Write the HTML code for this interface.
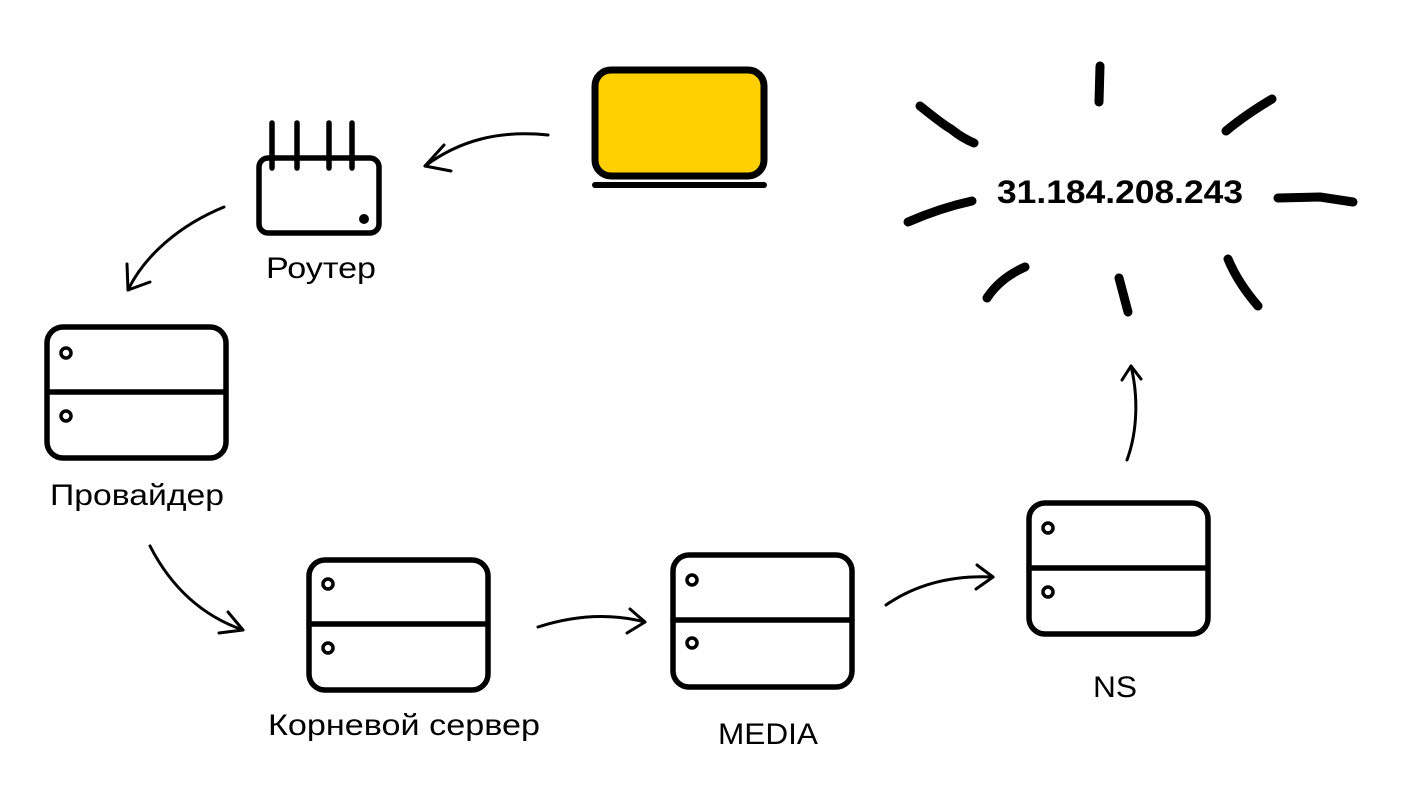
<!DOCTYPE html>
<html><head><meta charset="utf-8"><style>
html,body{margin:0;padding:0;background:#fff;}
svg{display:block;}
text{font-family:"Liberation Sans","DejaVu Sans",sans-serif;fill:#000;}
</style></head><body>
<svg width="1403" height="811" viewBox="0 0 1403 811" xmlns="http://www.w3.org/2000/svg">
<g fill="none" stroke="#000" stroke-linecap="round" stroke-linejoin="round">
<rect x="595" y="70" width="169" height="106" rx="16" fill="#FFCF00" stroke-width="7"/>
<line x1="595" y1="185" x2="764" y2="185" stroke-width="6"/>
<rect x="259" y="158" width="120" height="75" rx="9" stroke-width="5.5"/>
<line x1="272" y1="123" x2="272" y2="168" stroke-width="5.5"/>
<line x1="297" y1="123" x2="297" y2="168" stroke-width="5.5"/>
<line x1="329" y1="123" x2="329" y2="168" stroke-width="5.5"/>
<line x1="352" y1="123" x2="352" y2="168" stroke-width="5.5"/>
<rect x="47" y="327" width="179" height="131" rx="16" stroke-width="5.5"/>
<line x1="47" y1="392" x2="226" y2="392" stroke-width="5.5"/>
<circle cx="66" cy="353" r="5" stroke-width="3.5"/><circle cx="66" cy="416" r="5" stroke-width="3.5"/>
<rect x="309" y="560" width="179" height="130" rx="16" stroke-width="5.5"/>
<line x1="309" y1="624" x2="488" y2="624" stroke-width="5.5"/>
<circle cx="328" cy="584" r="5" stroke-width="3.5"/><circle cx="328" cy="648" r="5" stroke-width="3.5"/>
<rect x="673" y="555" width="179" height="132" rx="16" stroke-width="5.5"/>
<line x1="673" y1="620" x2="852" y2="620" stroke-width="5.5"/>
<circle cx="692" cy="580" r="5" stroke-width="3.5"/><circle cx="692" cy="643" r="5" stroke-width="3.5"/>
<rect x="1029" y="503" width="179" height="131" rx="16" stroke-width="5.5"/>
<line x1="1029" y1="568" x2="1208" y2="568" stroke-width="5.5"/>
<circle cx="1048" cy="528" r="5" stroke-width="3.5"/><circle cx="1048" cy="592" r="5" stroke-width="3.5"/>
<g stroke-width="3">
<path d="M548 135 C500 130 460 140 425 166"/><path d="M444 145 L425 166 L451 171"/>
<path d="M224 207 C180 225 145 255 128 290"/><path d="M127 264 L128 290 L150 282"/>
<path d="M150 546 C170 585 200 615 243 630"/><path d="M228 612 L243 630 L219 633"/>
<path d="M538 627 C575 615 610 613 645 622"/><path d="M630 609 L645 622 L627 633"/>
<path d="M886 605 C915 585 950 575 993 577"/><path d="M977 565 L993 577 L976 589"/>
<path d="M1127 460 C1138 430 1138 395 1131 366"/><path d="M1122 380 L1131 366 L1141 379"/>
</g>
<g stroke-width="9">
<path d="M920 106 Q945 126 951 129 Q962 138 974 143"/>
<path d="M1100 66 L1099 102"/>
<path d="M1226 131 Q1245 115 1272 99"/>
<path d="M908 222 Q940 208 972 201"/>
<path d="M1278 198 L1320 197 L1353 202"/>
<path d="M987 298 Q1000 278 1025 267"/>
<path d="M1119 278 L1128 312"/>
<path d="M1228 259 Q1238 283 1258 306"/>
</g>
</g>
<circle cx="364" cy="219" r="5" fill="#000"/>
<text x="266" y="278" font-size="30" textLength="110" lengthAdjust="spacingAndGlyphs">Роутер</text>
<text x="50" y="505" font-size="30" textLength="174" lengthAdjust="spacingAndGlyphs">Провайдер</text>
<text x="268" y="735" font-size="30" textLength="272" lengthAdjust="spacingAndGlyphs">Корневой сервер</text>
<text x="718" y="744" font-size="30" textLength="100" lengthAdjust="spacingAndGlyphs">MEDIA</text>
<text x="1093" y="697" font-size="30" textLength="44" lengthAdjust="spacingAndGlyphs">NS</text>
<text x="997" y="203" font-size="32" font-weight="bold" textLength="246" lengthAdjust="spacingAndGlyphs">31.184.208.243</text>
</svg>
</body></html>
